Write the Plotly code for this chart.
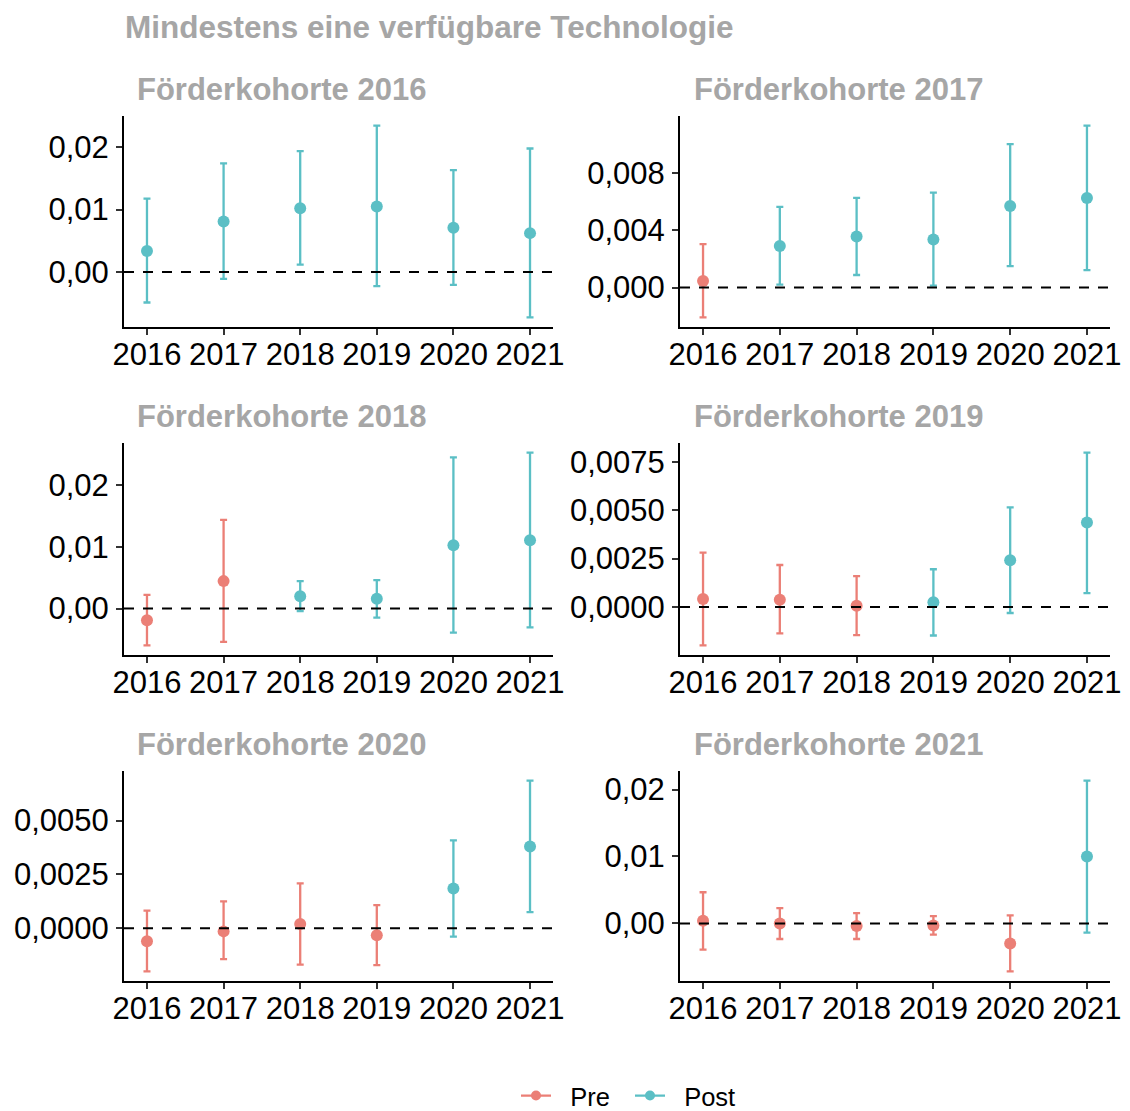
import plotly.graph_objects as go

# Body margin of the page (8px) is compensated by shrinking the figure.
OFF = 8
W, H = 1130 - OFF, 1111 - OFF

years = [2016, 2017, 2018, 2019, 2020, 2021]
year_labels = ["2016", "2017", "2018", "2019", "2020", "2021"]
cohorts = [2016, 2017, 2018, 2019, 2020, 2021]
panel_titles = ["Förderkohorte 2016", "Förderkohorte 2017", "Förderkohorte 2018",
                "Förderkohorte 2019", "Förderkohorte 2020", "Förderkohorte 2021"]
main_title = "Mindestens eine verfügbare Technologie"

# Kohorte 2016
est_2016 = [0.00335, 0.00809, 0.0102, 0.01048, 0.00707, 0.00622]
lo_2016 = [-0.0049, -0.00112, 0.00117, -0.00229, -0.00207, -0.00729]
hi_2016 = [0.01176, 0.0174, 0.01936, 0.02346, 0.01633, 0.01979]
per_2016 = ["Post", "Post", "Post", "Post", "Post", "Post"]
# Kohorte 2017
est_2017 = [0.000465, 0.00291, 0.00358, 0.00337, 0.00572, 0.00628]
lo_2017 = [-0.00209, 0.00021, 0.00088, 0.00014, 0.00151, 0.00123]
hi_2017 = [0.00305, 0.00565, 0.00628, 0.00665, 0.01005, 0.01135]
per_2017 = ["Pre", "Post", "Post", "Post", "Post", "Post"]
# Kohorte 2018
est_2018 = [-0.00189, 0.00443, 0.0020, 0.00157, 0.01022, 0.01103]
lo_2018 = [-0.00595, -0.0054, -0.00043, -0.00146, -0.00389, -0.00303]
hi_2018 = [0.00222, 0.01432, 0.00443, 0.00459, 0.02443, 0.02519]
per_2018 = ["Pre", "Pre", "Post", "Post", "Post", "Post"]
# Kohorte 2019
est_2019 = [0.000414, 0.00038, 0.00007, 0.00024, 0.00241, 0.00436]
lo_2019 = [-0.00198, -0.00136, -0.00145, -0.00147, -0.00031, 0.00072]
hi_2019 = [0.00281, 0.00217, 0.00159, 0.00195, 0.00514, 0.00797]
per_2019 = ["Pre", "Pre", "Pre", "Post", "Post", "Post"]
# Kohorte 2020
est_2020 = [-0.0006, -0.00014, 0.0002, -0.00032, 0.00185, 0.0038]
lo_2020 = [-0.0020, -0.00143, -0.00168, -0.00171, -0.00038, 0.00075]
hi_2020 = [0.00082, 0.00125, 0.00209, 0.00108, 0.00408, 0.00686]
per_2020 = ["Pre", "Pre", "Pre", "Pre", "Post", "Post"]
# Kohorte 2021
est_2021 = [0.0004, 0.0, -0.0004, -0.0003, -0.00302, 0.0100]
lo_2021 = [-0.00391, -0.00233, -0.00233, -0.00168, -0.00718, -0.00139]
hi_2021 = [0.00465, 0.00228, 0.00153, 0.00109, 0.00119, 0.02134]
per_2021 = ["Pre", "Pre", "Pre", "Pre", "Pre", "Post"]

ytick_2016 = [0.0, 0.01, 0.02]
ytick_2017 = [0.0, 0.004, 0.008]
ytick_2018 = [0.0, 0.01, 0.02]
ytick_2019 = [0.0, 0.0025, 0.005, 0.0075]
ytick_2020 = [0.0, 0.0025, 0.005]
ytick_2021 = [0.0, 0.01, 0.02]

panels = [
    (est_2016, lo_2016, hi_2016, per_2016, ytick_2016, ".2f"),
    (est_2017, lo_2017, hi_2017, per_2017, ytick_2017, ".3f"),
    (est_2018, lo_2018, hi_2018, per_2018, ytick_2018, ".2f"),
    (est_2019, lo_2019, hi_2019, per_2019, ytick_2019, ".4f"),
    (est_2020, lo_2020, hi_2020, per_2020, ytick_2020, ".4f"),
    (est_2021, lo_2021, hi_2021, per_2021, ytick_2021, ".2f"),
]

COLORS = {"Pre": "#EB7F76", "Post": "#5BBFC5"}
FONT = "Liberation Sans, Arial, sans-serif"
TITLE_GREY = "#A6A6A6"

def fx(p):
    return (p - OFF) / W

def fy(p):
    return 1 - (p - OFF) / H

col_px = [(124, 553), (680, 1110)]
row_px = [(116, 327), (443, 655), (771, 981)]
title_x_px = [135, 692]
title_y_px = [89, 416, 744]

fig = go.Figure()
layout = {}
annotations = []
shapes = []

for i, (est, lo, hi, per, ytick, fmt) in enumerate(panels):
    r, c = divmod(i, 2)
    n = i + 1
    xa = "x" if n == 1 else f"x{n}"
    ya = "y" if n == 1 else f"y{n}"
    for period in ["Pre", "Post"]:
        idx = [k for k in range(len(years)) if per[k] == period]
        if not idx:
            continue
        fig.add_trace(go.Scatter(
            x=[years[k] for k in idx],
            y=[est[k] for k in idx],
            mode="markers",
            marker=dict(color=COLORS[period], size=12),
            error_y=dict(type="data", symmetric=False,
                         array=[hi[k] - est[k] for k in idx],
                         arrayminus=[est[k] - lo[k] for k in idx],
                         color=COLORS[period], thickness=2.3, width=3.5),
            xaxis=xa, yaxis=ya, showlegend=False, hoverinfo="x+y",
        ))
    ymin, ymax = min(lo), max(hi)
    pad = 0.05 * (ymax - ymin)
    x0, x1 = col_px[c]
    y0, y1 = row_px[r]
    axis_common = dict(
        showline=True, linecolor="black", linewidth=2,
        ticks="outside", ticklen=6, tickwidth=2, tickcolor="#333333",
        showgrid=False, zeroline=False, automargin=False,
        tickfont=dict(family=FONT, size=31, color="black"),
    )
    layout["xaxis" if n == 1 else f"xaxis{n}"] = dict(
        domain=[fx(x0), fx(x1)], anchor=ya,
        range=[years[0] - 0.3, years[-1] + 0.3],
        tickvals=years, ticktext=year_labels,
        ticklabelstandoff=-7,
        **axis_common,
    )
    layout["yaxis" if n == 1 else f"yaxis{n}"] = dict(
        domain=[fy(y1), fy(y0)], anchor=xa,
        range=[ymin - pad, ymax + pad],
        tickvals=ytick, tickformat=fmt,
        ticklabelstandoff=1,
        **axis_common,
    )
    shapes.append(dict(type="line", xref=f"{xa} domain", yref=ya,
                       x0=0, x1=1, y0=0, y1=0,
                       line=dict(color="black", width=2, dash="10px,9px"),
                       layer="above"))
    annotations.append(dict(text=f"<b>{panel_titles[i]}</b>", xref="paper", yref="paper",
                            x=fx(title_x_px[c]), y=fy(title_y_px[r]),
                            xanchor="left", yanchor="middle", showarrow=False,
                            font=dict(family=FONT, size=31, color=TITLE_GREY)))

annotations.append(dict(text=f"<b>{main_title}</b>", xref="paper", yref="paper",
                        x=fx(123), y=fy(27), xanchor="left", yanchor="middle",
                        showarrow=False,
                        font=dict(family=FONT, size=31.5, color=TITLE_GREY)))

for period in ["Pre", "Post"]:
    fig.add_trace(go.Scatter(
        x=[None], y=[None], mode="lines+markers", name="\u00a0\u00a0" + period,
        marker=dict(color=COLORS[period], size=10),
        line=dict(color=COLORS[period], width=2.3),
        showlegend=True,
    ))

fig.update_layout(
    template="none",
    width=W, height=H,
    margin=dict(l=0, r=0, t=0, b=0, autoexpand=False),
    paper_bgcolor="white", plot_bgcolor="white",
    separators=",.",
    annotations=annotations, shapes=shapes,
    legend=dict(orientation="h", x=fx(516), xanchor="left",
                y=fy(1096), yanchor="middle",
                font=dict(family=FONT, size=25.5, color="black"),
                itemwidth=30, tracegroupgap=0,
                entrywidth=69, entrywidthmode="pixels"),
    **layout,
)

fig.write_html("out.html")
